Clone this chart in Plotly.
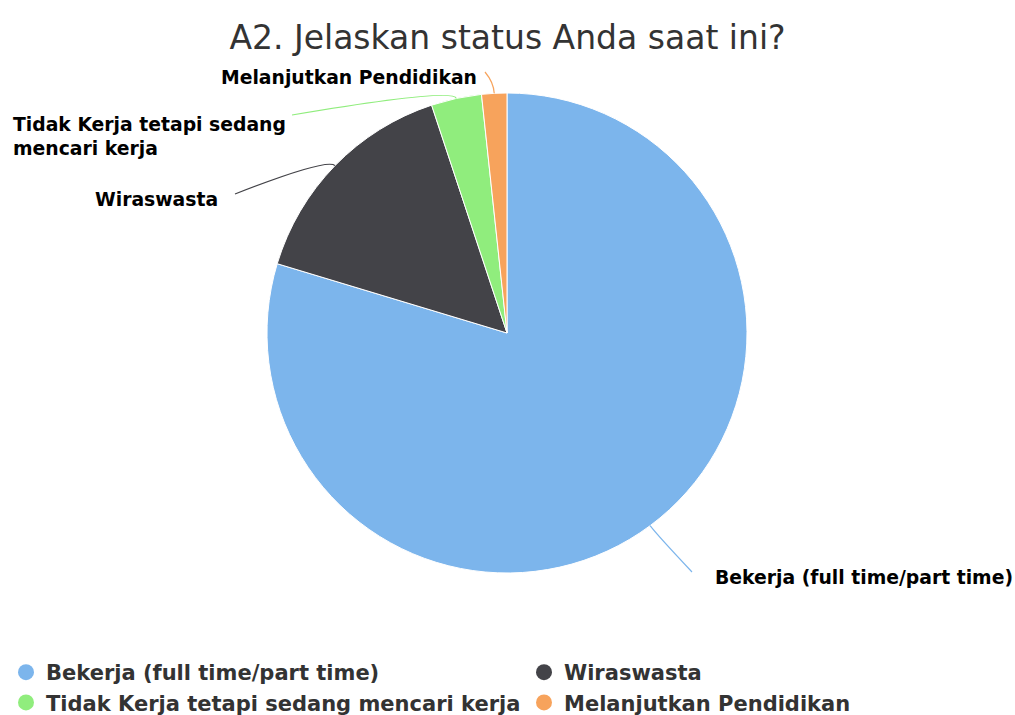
import math
import plotly.graph_objects as go

# data
labels = [
    "Bekerja (full time/part time)",
    "Wiraswasta",
    "Tidak Kerja tetapi sedang mencari kerja",
    "Melanjutkan Pendidikan",
]
counts = [47, 9, 2, 1]
colors = ["#7cb5ec", "#434348", "#90ed7d", "#f7a35c"]

# layout (pixels)
W, H = 1015, 715
CX, CY, R = 507, 333, 240
FONT = "DejaVu Sans"

# data label placement: text anchor, connector end
label_cfg = [
    dict(text="Bekerja (full time/part time)", x=713, y=577, xanchor="left", end=(692, 572)),
    dict(text="Wiraswasta", x=220, y=199, xanchor="right", end=(235, 194)),
    dict(text="Tidak Kerja tetapi sedang<br>mencari kerja", x=288, y=136, xanchor="right", end=(292, 115)),
    dict(text="Melanjutkan Pendidikan", x=479, y=77, xanchor="right", end=(485, 72)),
]


def paper(x, y):
    return x / W, 1 - y / H


fig = go.Figure()

x0, y0 = paper(CX - R, CY + R)
x1, y1 = paper(CX + R, CY - R)
fig.add_trace(go.Pie(
    labels=labels,
    values=counts,
    sort=False,
    direction="clockwise",
    rotation=0,
    marker=dict(colors=colors, line=dict(color="white", width=1)),
    textinfo="none",
    hoverinfo="label+value+percent",
    showlegend=False,
    domain=dict(x=[x0, x1], y=[y0, y1]),
))

# legend proxies with round markers, two columns
for i, (lab, col) in enumerate(zip(labels, colors)):
    fig.add_trace(go.Scatter(
        x=[None], y=[None], mode="markers", name=lab,
        marker=dict(color=col, size=16, symbol="circle"),
        legend="legend" if i % 2 == 0 else "legend2",
        hoverinfo="skip",
    ))

# connectors + labels computed from slice angles
total = sum(counts)
start = 0.0
shapes, annotations = [], []
for val, col, cfg in zip(counts, colors, label_cfg):
    mid = math.radians((start + val / 2) / total * 360)
    start += val
    dx, dy = math.sin(mid), -math.cos(mid)
    p0 = (CX + R * dx, CY + R * dy)
    p1 = (CX + (R + 11) * dx, CY + (R + 11) * dy)
    p2 = cfg["end"]
    a, b, c = paper(*p0), paper(*p1), paper(*p2)
    shapes.append(dict(
        type="path", xref="paper", yref="paper",
        path=f"M {a[0]},{a[1]} Q {b[0]},{b[1]} {c[0]},{c[1]}",
        line=dict(color=col, width=1.2),
    ))
    ax, ay = paper(cfg["x"], cfg["y"])
    annotations.append(dict(
        text=cfg["text"], x=ax, y=ay, xref="paper", yref="paper",
        xanchor=cfg["xanchor"], yanchor="middle", align="left",
        showarrow=False,
        font=dict(family=FONT, size=18.8, color="#000000", weight="bold"),
    ))

legend_style = dict(
    orientation="v", yanchor="top", xanchor="left",
    bgcolor="rgba(0,0,0,0)",
    font=dict(family=FONT, size=21, color="#333333", weight="bold"),
    itemclick=False, itemdoubleclick=False,
)

fig.update_layout(
    width=W, height=H,
    margin=dict(l=0, r=0, t=0, b=0, autoexpand=False),
    paper_bgcolor="white",
    plot_bgcolor="white",
    title=dict(
        text="A2. Jelaskan status Anda saat ini?",
        x=0.5, xanchor="center", y=1 - 37 / H, yanchor="middle",
        font=dict(family=FONT, size=33, color="#333333"),
    ),
    xaxis=dict(visible=False),
    yaxis=dict(visible=False),
    legend=dict(x=6 / W, y=1 - 652 / H, **legend_style),
    legend2=dict(x=524 / W, y=1 - 652 / H, **legend_style),
    shapes=shapes,
    annotations=annotations,
)

# page body has a default 8px margin; drop it so the figure fills the window
fig.write_html(
    "out.html",
    config={"displayModeBar": False},
    post_script="document.body.style.margin='0';",
)
